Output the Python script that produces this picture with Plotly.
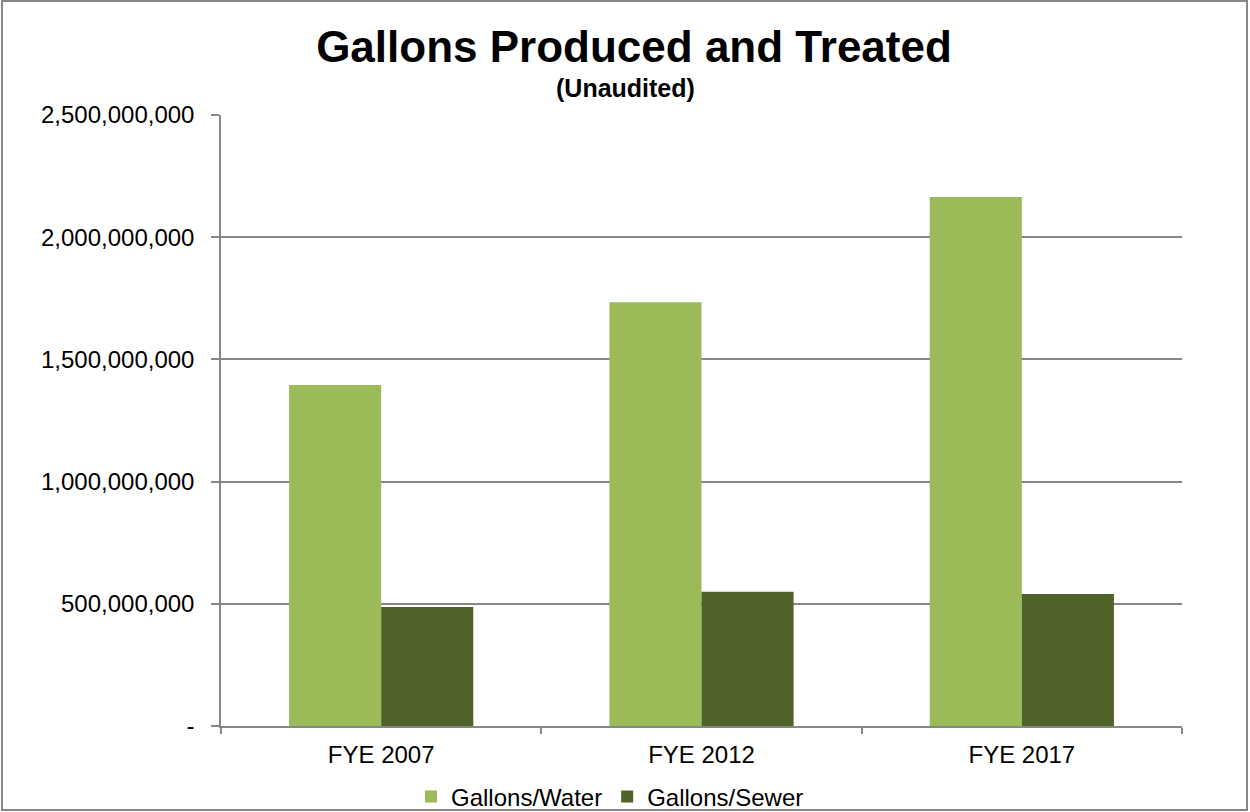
import plotly.graph_objects as go

categories = ["FYE 2007", "FYE 2012", "FYE 2017"]
water = [1395000000, 1734000000, 2164000000]
sewer = [487000000, 549000000, 540000000]
tick_vals = [0, 500000000, 1000000000, 1500000000, 2000000000, 2500000000]
tick_text = ["-", "500,000,000", "1,000,000,000", "1,500,000,000", "2,000,000,000", "2,500,000,000"]

W, H = 1250, 812
L, R, T, B = 221, 68, 115, 86
pw, ph = W - L - R, H - T - B

def px_x(x):
    return (x - L) / pw

def px_y(y):
    return (H - B - y) / ph

grey = "#878787"
font = "Liberation Sans, Arial, sans-serif"

fig = go.Figure()
fig.add_trace(go.Bar(name="Gallons/Water", x=categories, y=water,
                     marker=dict(color="#9BBB59", line=dict(width=0))))
fig.add_trace(go.Bar(name="Gallons/Sewer", x=categories, y=sewer,
                     marker=dict(color="#4F6228", line=dict(width=0))))

fig.update_layout(
    width=W, height=H,
    margin=dict(l=L, r=R, t=T, b=B, autoexpand=False),
    paper_bgcolor="white", plot_bgcolor="white",
    barmode="group", bargap=0.425, bargroupgap=0,
    font=dict(family=font, color="black", size=24),
    title=dict(text="<b>Gallons Produced and Treated</b>", x=634 / W, xref="container",
               xanchor="center", y=1 - 47 / H, yref="container", yanchor="middle",
               font=dict(family=font, size=44, color="black")),
    showlegend=True,
    legend=dict(orientation="h", x=px_x(610), xanchor="center", y=px_y(797), yanchor="middle",
                font=dict(family=font, size=24, color="black"), itemwidth=30,
                traceorder="normal", bgcolor="rgba(0,0,0,0)"),
    xaxis=dict(showline=True, linecolor=grey, linewidth=1.5, ticks="outside",
               tickson="boundaries", ticklen=6, tickcolor=grey, tickwidth=1.5,
               showgrid=False, tickfont=dict(family=font, size=24, color="black"),
               ticklabelstandoff=6),
    yaxis=dict(range=[0, 2500000000], tickvals=tick_vals, ticktext=tick_text,
               showline=True, linecolor=grey, linewidth=1.5, ticks="outside",
               ticklen=8, tickcolor=grey, tickwidth=1.5,
               showgrid=True, gridcolor=grey, gridwidth=1.5, zeroline=False,
               tickfont=dict(family=font, size=24, color="black"),
               ticklabelstandoff=12),
    annotations=[dict(text="<b>(Unaudited)</b>", x=px_x(625), xref="paper", y=px_y(88),
                      yref="paper", xanchor="center", yanchor="middle", showarrow=False,
                      font=dict(family=font, size=25, color="black"))],
    shapes=[dict(type="rect", xref="paper", yref="paper",
                 x0=px_x(2), x1=px_x(1247), y0=px_y(810), y1=px_y(1),
                 line=dict(color=grey, width=2), fillcolor="rgba(0,0,0,0)", layer="below")],
)

fig.write_html("out.html", config={"displayModeBar": False},
               post_script="document.body.style.margin='0';document.body.style.padding='0';document.body.style.overflow='hidden';")
